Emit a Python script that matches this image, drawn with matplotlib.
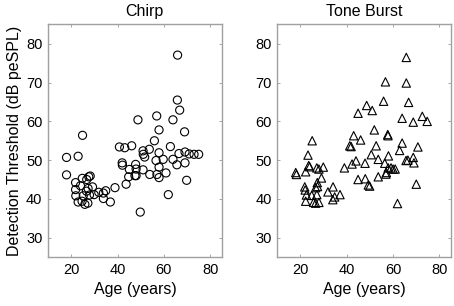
import matplotlib
matplotlib.use("Agg")
import matplotlib.pyplot as plt

plt.rcParams['font.family'] = ['Liberation Sans', 'DejaVu Sans']

chirp_age = [65.9, 65.8, 66.8, 48.8, 56.9, 63.9, 57.9, 68.9, 24.9, 55.9,
             40.8, 43.1, 46.1, 53.7, 62.8, 51.0, 57.9, 51.1, 51.7, 18.0,
             23.0, 69.1, 66.5, 70.9, 73.0, 75.0, 56.6, 59.7, 63.9, 65.6,
             69.1, 42.0, 42.1, 47.8, 45.1, 48.0, 51.0, 57.9, 60.9, 53.9,
             57.0, 57.9, 48.0, 44.8, 47.5, 43.7, 69.8, 18.0, 21.9, 24.8,
             27.6, 26.7, 28.2, 24.0, 21.9, 27.3, 29.2, 26.6, 22.0, 25.2,
             27.9, 29.9, 31.9, 33.9, 34.9, 33.9, 38.9, 36.9, 23.0, 24.7,
             25.9, 27.2, 49.8, 61.9]
chirp_thr = [77.1, 65.5, 62.9, 60.4, 61.4, 60.4, 57.8, 57.3, 56.4, 55.0,
             53.4, 53.2, 53.7, 52.8, 53.5, 52.4, 51.9, 51.5, 50.8, 50.7,
             51.0, 52.1, 51.7, 51.6, 51.5, 51.5, 49.9, 50.2, 50.2, 48.8,
             49.3, 49.3, 48.7, 48.9, 47.6, 47.7, 47.5, 48.2, 46.7, 46.3,
             46.3, 45.5, 46.0, 45.7, 46.0, 43.8, 44.8, 46.2, 44.2, 45.3,
             45.7, 45.0, 45.9, 43.4, 42.4, 42.7, 43.1, 42.0, 40.8, 40.8,
             41.0, 41.1, 41.7, 41.5, 42.1, 40.1, 42.9, 39.2, 39.2, 39.4,
             38.6, 38.9, 36.6, 41.1]

tone_age = [65.7, 56.7, 65.7, 66.7, 55.9, 48.6, 51.0, 44.9, 63.9, 72.6,
            68.7, 74.7, 51.9, 57.7, 57.8, 43.0, 46.0, 25.1, 41.3, 41.9,
            52.7, 63.9, 70.7, 62.8, 50.6, 23.3, 53.6, 58.0, 66.4, 65.6,
            68.7, 69.0, 18.0, 18.3, 22.3, 23.6, 24.0, 27.1, 28.0, 29.9,
            39.0, 42.3, 44.0, 47.9, 56.4, 57.9, 60.0, 60.9, 59.1, 57.1,
            56.9, 53.6, 44.9, 48.0, 49.3, 49.9, 29.1, 27.3, 21.9, 22.1,
            26.6, 27.4, 34.1, 70.0, 22.6, 24.9, 27.1, 31.9, 34.8, 37.1,
            22.3, 25.7, 26.6, 28.0, 34.0, 61.9]
tone_thr = [76.5, 70.2, 69.9, 64.9, 65.2, 64.1, 62.8, 62.1, 60.8, 61.3,
            59.8, 60.0, 57.8, 56.6, 56.3, 56.3, 55.2, 55.0, 53.7, 53.5,
            53.7, 54.4, 53.4, 52.5, 51.4, 51.3, 50.2, 51.1, 50.0, 49.9,
            50.7, 49.3, 46.8, 46.3, 47.0, 48.6, 48.3, 48.0, 47.7, 48.2,
            48.0, 49.0, 49.8, 49.2, 49.2, 48.0, 47.7, 47.7, 48.0, 46.8,
            46.4, 45.7, 45.0, 45.2, 43.6, 43.3, 45.4, 44.2, 43.1, 42.3,
            42.9, 43.2, 43.1, 43.8, 41.0, 40.9, 41.1, 41.8, 40.5, 41.1,
            39.4, 39.1, 38.9, 39.1, 39.8, 38.8]

titles = ["Chirp", "Tone Burst"]
xticks = [20, 40, 60, 80]
yticks = [30, 40, 50, 60, 70, 80]

fig = plt.figure(figsize=(4.54, 3.06), dpi=100)
ax1 = fig.add_axes([0.1057, 0.160, 0.383, 0.760])
ax2 = fig.add_axes([0.6105, 0.160, 0.383, 0.760])

ax1.scatter(chirp_age, chirp_thr, s=34, marker='o', facecolors='none',
            edgecolors='black', linewidths=0.8)
ax2.scatter(tone_age, tone_thr, s=36, marker='^', facecolors='none',
            edgecolors='black', linewidths=0.8)

for ax, t in zip([ax1, ax2], titles):
    ax.set_xlim(10, 85)
    ax.set_ylim(25, 85)
    ax.set_xticks(xticks)
    ax.set_yticks(yticks)
    ax.tick_params(direction='in', length=2.5, width=0.6, color='#999999',
                   top=True, right=True, labelsize=10.5, pad=4)
    for sp in ax.spines.values():
        sp.set_color('#a0a0a0')
        sp.set_linewidth(1.0)
    ax.set_xlabel("Age (years)", fontsize=11.5, labelpad=4)

ax1.set_title(titles[0], fontsize=11.5, pad=6, x=0.555)
ax2.set_title(titles[1], fontsize=11.5, pad=6)
ax1.set_ylabel("Detection Threshold (dB peSPL)", fontsize=11.5, labelpad=3)

fig.savefig("out.png", dpi=100)
